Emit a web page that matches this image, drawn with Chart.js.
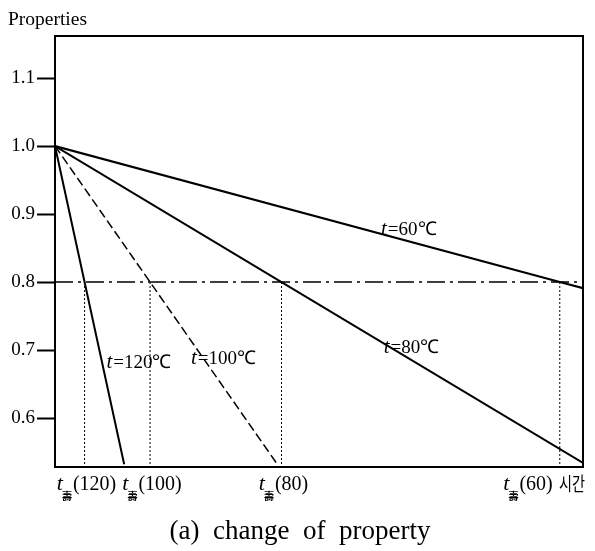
<!DOCTYPE html>
<html>
<head>
<meta charset="utf-8">
<script src="https://cdn.jsdelivr.net/npm/chart.js@4.4.1/dist/chart.umd.min.js"></script>
<style>
  html, body { margin: 0; padding: 0; background: #fff; }
  #wrap { width: 595px; height: 551px; position: relative; }
</style>
</head>
<body>
<div id="wrap"><canvas id="c"></canvas></div>
<script>
// Ageing temperatures (°C) and the relative time at which each curve reaches the limit value
const temperatures = [120, 100, 80, 60];
const lifeTimes    = [5.6, 18.0, 42.9, 95.6];
const startValue   = 1.0;
const limitValue   = 0.8;
// last point of each curve (time, property)
const endTimes     = [13.1, 42.2, 100, 100];
const endValues    = [0.532, 0.531, 0.534, 0.791];
// property axis
const yTicks = [0.6, 0.7, 0.8, 0.9, 1.0, 1.1];
const Y_MIN = 0.528, Y_MAX = 1.1618;
const X_MIN = 0, X_MAX = 100;

const SERIF = '"Liberation Serif", "Times New Roman", serif';

const curveStyle = {
  120: { width: 2,   dash: [] },
  100: { width: 1.5, dash: [9, 4] },
  80:  { width: 2,   dash: [] },
  60:  { width: 2.2, dash: [] }
};

const datasets = [];
// limit line at 0.8 (dash-dot)
datasets.push({
  data: [{ x: X_MIN, y: limitValue }, { x: X_MAX, y: limitValue }],
  borderColor: '#000', borderWidth: 1.6, borderDash: [18, 5, 3, 5],
  pointRadius: 0, fill: false
});
// dotted drop lines from the crossing points
lifeTimes.forEach(t => datasets.push({
  data: [{ x: t, y: limitValue }, { x: t, y: Y_MIN }],
  borderColor: '#000', borderWidth: 1, borderDash: [2, 2],
  pointRadius: 0, fill: false
}));
// property curves
temperatures.forEach((T, i) => datasets.push({
  label: 't=' + T + '℃',
  data: [
    { x: X_MIN, y: startValue },
    { x: lifeTimes[i], y: limitValue },
    { x: endTimes[i], y: endValues[i] }
  ],
  borderColor: '#000', borderWidth: curveStyle[T].width, borderDash: curveStyle[T].dash,
  pointRadius: 0, fill: false, tension: 0
}));

// text drawn around the plot: axis title, curve labels, life-time marks, caption
const annotate = {
  id: 'annotate',
  afterDraw(chart) {
    const { ctx, chartArea: a, scales: { x, y } } = chart;
    ctx.save();
    ctx.fillStyle = '#000';
    ctx.strokeStyle = '#000';

    // top and right edges of the frame
    ctx.lineWidth = 2;
    ctx.beginPath();
    ctx.moveTo(a.left, a.top);
    ctx.lineTo(a.right, a.top);
    ctx.lineTo(a.right, a.bottom);
    ctx.stroke();

    // axis title
    ctx.textBaseline = 'alphabetic';
    ctx.textAlign = 'left';
    ctx.font = '19px ' + SERIF;
    const title = 'Properties';
    const tw = ctx.measureText(title).width;
    ctx.save();
    ctx.translate(8, 25);
    ctx.scale(79 / tw, 1);
    ctx.fillText(title, 0, 0);
    ctx.restore();

    // curve labels  t=…℃
    const labelAt = {
      120: [15.9, 0.684],
      100: [31.9, 0.690],
      80:  [67.5, 0.706],
      60:  [67.0, 0.879]
    };
    temperatures.forEach(T => {
      const [lx, ly] = labelAt[T];
      const cx = x.getPixelForValue(lx), cy = y.getPixelForValue(ly);
      const rest = '=' + T + '℃';
      ctx.font = 'italic 21px ' + SERIF;
      const w1 = ctx.measureText('t').width + 1;
      ctx.font = '19px ' + SERIF;
      const w2 = ctx.measureText(rest).width;
      const sx = cx - (w1 + w2) / 2;
      ctx.font = 'italic 21px ' + SERIF;
      ctx.fillText('t', sx, cy + 7);
      ctx.font = '19px ' + SERIF;
      ctx.fillText(rest, sx + w1, cy + 7);
    });

    // life-time marks under the time axis
    const base = a.bottom + 23;
    const drawLife = (T, px, align) => {
      const num = '(' + T + ')';
      ctx.font = 'italic 22px ' + SERIF;
      const wt = ctx.measureText('t').width;
      ctx.font = 'bold 10px "Noto Sans CJK KR", sans-serif';
      const ws = ctx.measureText('壽').width;
      ctx.font = '20px ' + SERIF;
      const wn = ctx.measureText(num).width;
      const total = wt + ws + wn;
      const sx = align === 'right' ? px - total : px - total / 2;
      ctx.font = 'italic 22px ' + SERIF;
      ctx.fillText('t', sx, base);
      ctx.font = 'bold 10px "Noto Sans CJK KR", sans-serif';
      ctx.fillText('壽', sx + wt - 1, base + 10);
      ctx.font = '20px ' + SERIF;
      ctx.fillText(num, sx + wt + ws, base);
    };
    temperatures.forEach((T, i) => {
      const px = x.getPixelForValue(lifeTimes[i]);
      if (T === 60) drawLife(T, px - 7, 'right');
      else drawLife(T, px + 2, 'center');
    });

    // time axis name
    ctx.font = '19px "Noto Sans CJK KR", sans-serif';
    const tn = '시간';
    const tnw = ctx.measureText(tn).width;
    ctx.save();
    ctx.translate(a.right + 2, base + 1);
    ctx.scale(26 / tnw, 1);
    ctx.textAlign = 'right';
    ctx.fillText(tn, 0, 0);
    ctx.restore();

    // caption
    ctx.textAlign = 'center';
    ctx.font = '27px ' + SERIF;
    ctx.fillText('(a)  change  of  property', 300, 539);

    ctx.restore();
  }
};

new Chart(document.getElementById('c'), {
  type: 'line',
  data: { datasets },
  options: {
    responsive: true,
    maintainAspectRatio: false,
    animation: false,
    layout: { padding: { top: 36, right: 12, left: 0, bottom: 0 } },
    plugins: { legend: { display: false }, tooltip: { enabled: false } },
    elements: { line: { borderCapStyle: 'butt' } },
    scales: {
      x: {
        type: 'linear', min: X_MIN, max: X_MAX,
        ticks: { display: false },
        grid: { display: true, drawOnChartArea: false, drawTicks: false },
        border: { display: true, width: 2, color: '#000' },
        afterFit: s => { s.height = 84; }
      },
      y: {
        type: 'linear', min: Y_MIN, max: Y_MAX,
        afterBuildTicks: s => { s.ticks = yTicks.map(v => ({ value: v })); },
        ticks: {
          callback: v => Number(v).toFixed(1),
          font: { family: SERIF, size: 19 },
          color: '#000', padding: 2
        },
        grid: { drawOnChartArea: false, tickLength: 18, tickWidth: 2, tickColor: '#000' },
        border: { display: true, width: 2, color: '#000' },
        afterFit: s => { s.width = 55; }
      }
    }
  },
  plugins: [annotate]
});
</script>
</body>
</html>
